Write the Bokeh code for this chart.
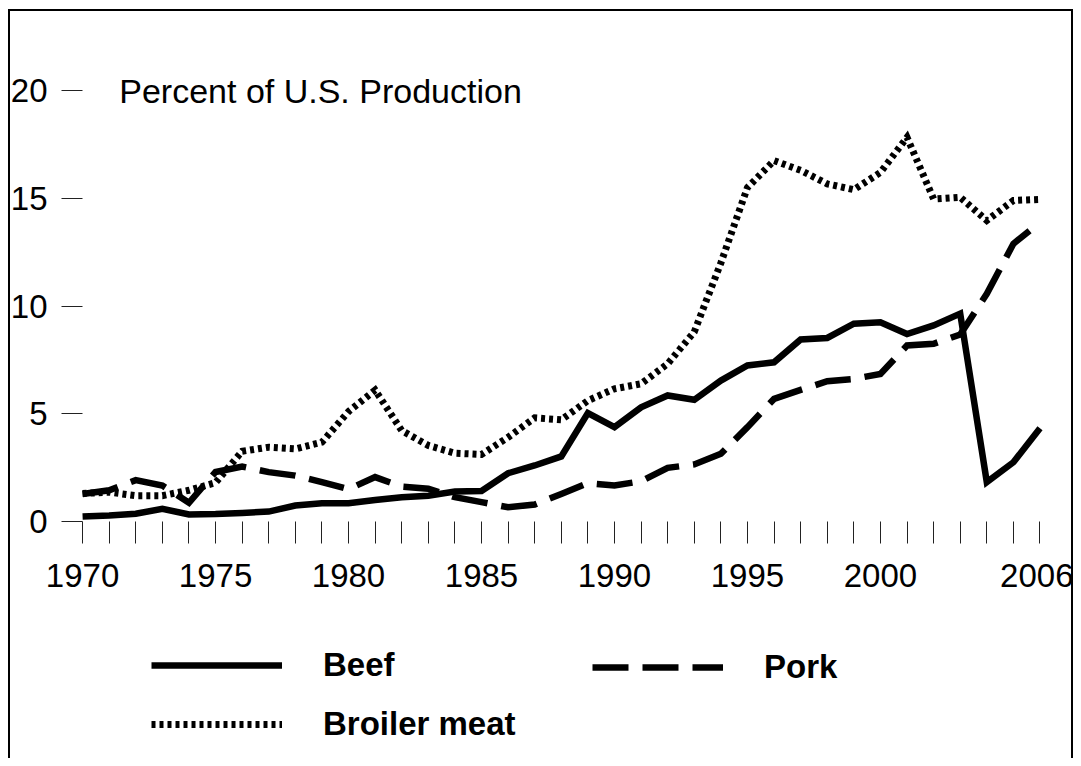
from bokeh.plotting import figure
from bokeh.models import Range1d, FixedTicker, Label, Legend, LegendItem
from bokeh.embed import file_html
from bokeh.resources import INLINE

years = list(range(1970, 2007))
beef = [0.23, 0.28, 0.36, 0.59, 0.33, 0.35, 0.40, 0.46, 0.74, 0.85,
        0.85, 1.00, 1.13, 1.20, 1.39, 1.42, 2.24, 2.60, 3.02, 5.03,
        4.38, 5.30, 5.85, 5.65, 6.54, 7.24, 7.39, 8.45, 8.52, 9.18,
        9.25, 8.70, 9.10, 9.65, 1.83, 2.75, 4.33]
pork = [1.28, 1.45, 1.92, 1.67, 0.87, 2.30, 2.55, 2.29, 2.13, 1.83,
        1.50, 2.06, 1.62, 1.52, 1.13, 0.90, 0.66, 0.79, 1.28, 1.78,
        1.67, 1.87, 2.49, 2.65, 3.14, 4.38, 5.69, 6.11, 6.51, 6.62,
        6.85, 8.17, 8.25, 8.68, 10.57, 12.89, 13.89]
broiler = [1.30, 1.36, 1.20, 1.20, 1.45, 1.80, 3.26, 3.45, 3.37, 3.68,
           5.10, 6.10, 4.22, 3.53, 3.17, 3.11, 3.91, 4.81, 4.72, 5.61,
           6.16, 6.39, 7.32, 8.80, 12.00, 15.50, 16.75, 16.30, 15.67, 15.40,
           16.20, 17.83, 14.97, 15.05, 13.97, 14.90, 14.95]
y_ticks = [0, 5, 10, 15, 20]
x_label_years = [1970, 1975, 1980, 1985, 1990, 1995, 2000, 2006]
series_names = ["Beef", "Pork", "Broiler meat"]
title_text = "Percent of U.S. Production"

FONT = "Liberation Sans"

p = figure(width=1073, height=758, output_backend="svg", toolbar_location=None,
           x_range=Range1d(1967.29, 2007.26), y_range=Range1d(-11, 22),
           min_border_left=10, min_border_right=0, min_border_top=47,
           min_border_bottom=0)
p.outline_line_color = None
p.border_fill_color = None
p.background_fill_color = None
p.xgrid.visible = False
p.ygrid.visible = False
line_css = "linear-gradient(#000,#000)"
p.styles = {
    "background": (f"{line_css} 8px 9px / 2px calc(100% - 9px) no-repeat, "
                   f"{line_css} 8px 9px / 1065px 2px no-repeat, "
                   f"{line_css} 1071px 9px / 2px calc(100% - 9px) no-repeat"),
}

# axes (fixed inside the frame so nothing is clipped)
p.yaxis.fixed_location = years[0]
p.yaxis.ticker = FixedTicker(ticks=y_ticks)
p.yaxis.axis_line_color = None
p.yaxis.minor_tick_line_color = None
p.yaxis.major_tick_in = 0
p.yaxis.major_tick_out = 21
p.yaxis.major_tick_line_color = "#222222"
p.yaxis.major_label_standoff = 14
p.yaxis.major_label_text_font = FONT
p.yaxis.major_label_text_font_size = "33px"
p.yaxis.major_label_text_color = "black"

p.xaxis.fixed_location = 0
p.xaxis.ticker = FixedTicker(ticks=years)
p.xaxis.axis_line_color = None
p.xaxis.minor_tick_line_color = None
p.xaxis.major_tick_in = 0
p.xaxis.major_tick_out = 22
p.xaxis.major_tick_line_color = "#222222"
p.xaxis.major_label_standoff = 20
p.xaxis.major_label_text_font = FONT
p.xaxis.major_label_text_font_size = "33px"
p.xaxis.major_label_text_color = "black"
p.xaxis.major_label_overrides = {y: (str(y) if y in x_label_years else "") for y in years}

r_beef = p.line(years, beef, line_color="black", line_width=6.5, line_join="miter")
r_pork = p.line(years, pork, line_color="black", line_width=6.5, line_dash="36 14",
                line_join="miter")
r_broiler = p.line(years, broiler, line_color="black", line_width=7, line_dash="4 4",
                   line_join="miter")

p.add_layout(Label(x=1971.38, y=20, text=title_text, text_font=FONT,
                   text_font_size="34px", text_baseline="middle", text_color="black"))

def make_legend(items, loc):
    return Legend(items=items, location=loc, orientation="vertical",
                  glyph_width=131, glyph_height=36, label_height=36,
                  label_standoff=41, spacing=21, padding=0, margin=0,
                  border_line_alpha=0, background_fill_alpha=0,
                  label_text_font=FONT, label_text_font_size="33px",
                  label_text_font_style="bold", label_text_color="black")

# legend offsets are in screen px from the frame's lower-left corner
leg_a = make_legend([LegendItem(label=series_names[0], renderers=[r_beef]),
                     LegendItem(label=series_names[2], renderers=[r_broiler])], (141, 15))
leg_b = make_legend([LegendItem(label=series_names[1], renderers=[r_pork])], (582, 72))
p.add_layout(leg_a)
p.add_layout(leg_b)

open("out.html", "w").write(file_html(p, INLINE))
